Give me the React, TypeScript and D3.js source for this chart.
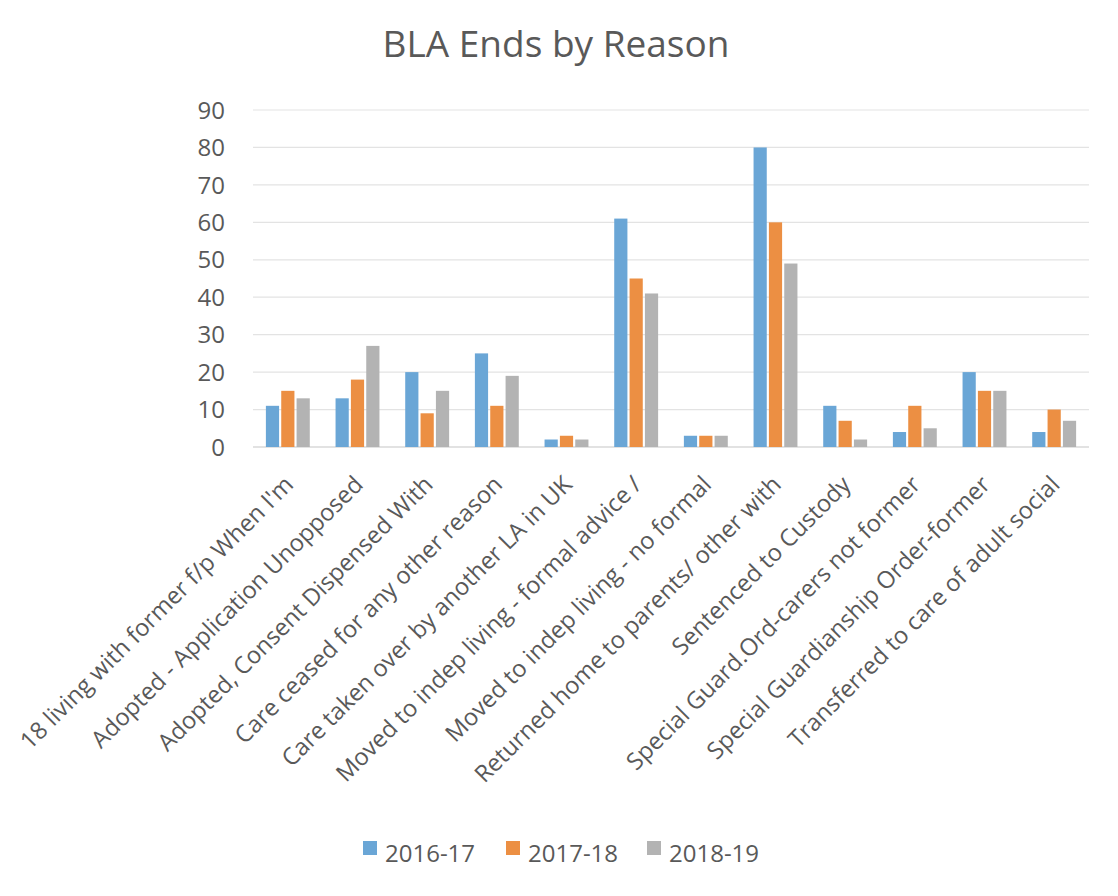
import React from "react";
import * as d3 from "d3";

// Reasons for BLA (looked-after) episodes ending
const categories = [
  "18 living with former f/p When I'm",
  "Adopted - Application Unopposed",
  "Adopted, Consent Dispensed With",
  "Care ceased for any other reason",
  "Care taken over by another LA in UK",
  "Moved to indep living - formal advice /",
  "Moved to indep living - no formal",
  "Returned home to parents/ other with",
  "Sentenced to Custody",
  "Special Guard.Ord-carers not former",
  "Special Guardianship Order-former",
  "Transferred to care of adult social",
];

const seriesNames = ["2016-17", "2017-18", "2018-19"];

const values2016_17 = [11, 13, 20, 25, 2, 61, 3, 80, 11, 4, 20, 4];
const values2017_18 = [15, 18, 9, 11, 3, 45, 3, 60, 7, 11, 15, 10];
const values2018_19 = [13, 27, 15, 19, 2, 41, 3, 49, 2, 5, 15, 7];

const yTicks = [0, 10, 20, 30, 40, 50, 60, 70, 80, 90];

const seriesColors = ["#6AA6D6", "#EC8F43", "#B3B3B3"];

const W = 1118;
const H = 896;
const FONT = "'Open Sans', 'DejaVu Sans', sans-serif";
const TEXT = "#595959";

export default function App() {
  const series = [values2016_17, values2017_18, values2018_19];

  const plotLeft = 253;
  const plotRight = 1089;
  const plotTop = 110;
  const plotBottom = 447;

  const x0 = d3
    .scaleBand<string>()
    .domain(categories)
    .range([plotLeft, plotRight])
    .paddingInner(0.37)
    .paddingOuter(0.185);

  const x1 = d3
    .scaleBand<string>()
    .domain(seriesNames)
    .range([0, x0.bandwidth()])
    .paddingInner(0.14);

  const y = d3.scaleLinear().domain([0, 90]).range([plotBottom, plotTop]);

  const legendX = [363, 506, 647];

  return (
    <svg
      width={W}
      height={H}
      viewBox={`0 0 ${W} ${H}`}
      style={{ position: "absolute", left: 0, top: 0, background: "#fff" }}
      fontFamily={FONT}
    >
      <rect x={0} y={0} width={W} height={H} fill="#fff" />
      <text x={556} y={57} textAnchor="middle" fontSize={37} fill={TEXT}>
        BLA Ends by Reason
      </text>

      {/* gridlines and y tick labels */}
      {yTicks.map((t) => (
        <g key={t}>
          <line
            x1={plotLeft}
            x2={plotRight}
            y1={y(t)}
            y2={y(t)}
            stroke={t === 0 ? "#D9D9D9" : "#E3E3E3"}
            strokeWidth={t === 0 ? 1.5 : 1.2}
          />
          <text
            x={225}
            y={y(t)}
            dy="0.36em"
            textAnchor="end"
            fontSize={24}
            fill={TEXT}
          >
            {t}
          </text>
        </g>
      ))}

      {/* clustered bars */}
      {categories.map((c, ci) => (
        <g key={c} transform={`translate(${x0(c)},0)`}>
          {series.map((vals, si) => (
            <rect
              key={si}
              x={x1(seriesNames[si])}
              y={y(vals[ci])}
              width={x1.bandwidth()}
              height={y(0) - y(vals[ci])}
              fill={seriesColors[si]}
            />
          ))}
        </g>
      ))}

      {/* rotated category labels */}
      {categories.map((c) => {
        const cx = (x0(c) as number) + x0.bandwidth() / 2;
        return (
          <text
            key={c}
            transform={`translate(${cx + 7},486) rotate(-45)`}
            textAnchor="end"
            fontSize={23.7}
            fill={TEXT}
          >
            {c}
          </text>
        );
      })}

      {/* legend */}
      {seriesNames.map((s, i) => (
        <g key={s}>
          <rect x={legendX[i]} y={841} width={14} height={14} fill={seriesColors[i]} />
          <text x={legendX[i] + 22} y={862} fontSize={24} fill={TEXT}>
            {s}
          </text>
        </g>
      ))}
    </svg>
  );
}
